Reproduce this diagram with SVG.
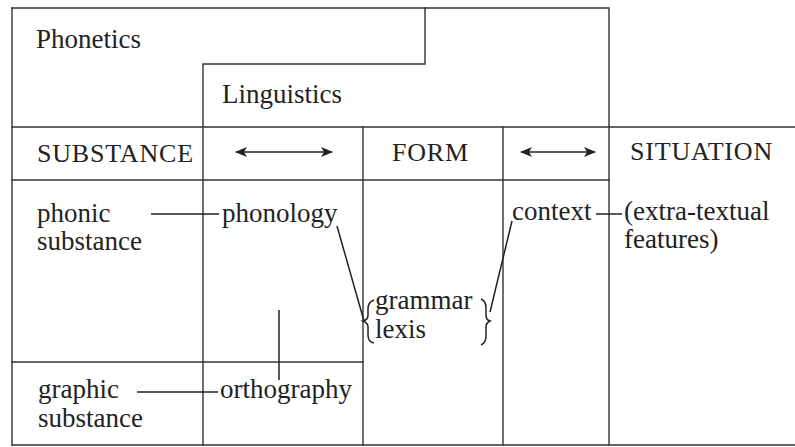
<svg xmlns="http://www.w3.org/2000/svg" width="795" height="447" viewBox="0 0 795 447">
<style>
.t{font-family:"Liberation Serif","Times New Roman",serif;font-size:27px;fill:#222}
.c{font-family:"Liberation Serif","Times New Roman",serif;font-size:26px;fill:#222;letter-spacing:0.8px}
.ln{stroke:#333;stroke-width:1.4;fill:none;stroke-linecap:square}
.cn{stroke:#222;stroke-width:1.5;fill:none}
</style>
<defs>
<marker id="ah" viewBox="0 0 12 10" refX="11" refY="5" markerWidth="12" markerHeight="10" markerUnits="userSpaceOnUse" orient="auto-start-reverse">
<path d="M0,0 L12,5 L0,10 L3,5 Z" fill="#222"/>
</marker>
</defs>
<rect width="795" height="447" fill="#fff"/>
<g id="frame" class="ln">
<path d="M12,8 H609 V445"/>
<path d="M12,8 V445"/>
<path d="M425,8 V64 H203 V445"/>
<path d="M12,127 H795"/>
<path d="M12,180 H609"/>
<path d="M363,127 V445"/>
<path d="M503,127 V445"/>
<path d="M12,362 H363"/>
<path d="M12,445 H795"/>
</g>
<g id="phonetics"><text class="t" x="36" y="48">Phonetics</text></g>
<g id="linguistics"><text class="t" x="222" y="103">Linguistics</text></g>
<g id="substance"><text class="c" x="37" y="162">SUBSTANCE</text></g>
<g id="form"><text class="c" x="392" y="161">FORM</text></g>
<g id="situation"><text class="c" x="630" y="160">SITUATION</text></g>
<g id="phonic-substance"><text class="t" x="37" y="222">phonic</text><text class="t" x="37" y="250">substance</text></g>
<g id="phonology"><text class="t" x="222" y="222">phonology</text></g>
<g id="grammar-lexis"><text class="t" x="375" y="309">grammar</text><text class="t" x="375" y="338">lexis</text>
<path class="cn" d="M374,300 Q368,302 368,309 L368,315 Q368,320 363,321 Q368,323 368,327 L368,335 Q368,342 374,343" stroke-width="1.3"/>
<path class="cn" d="M481,299 Q486,301 486,308 L486,315 Q486,320 490,321 Q486,323 486,327 L486,336 Q486,343 481,345" stroke-width="1.3"/>
</g>
<g id="context"><text class="t" x="512" y="220">context</text></g>
<g id="extra-textual"><text class="t" x="624" y="220">(extra-textual</text><text class="t" x="624" y="248">features)</text></g>
<g id="graphic-substance"><text class="t" x="38" y="398">graphic</text><text class="t" x="38" y="427">substance</text></g>
<g id="orthography"><text class="t" x="220" y="398">orthography</text></g>
<g id="connectors" class="cn">
<line x1="236" y1="152" x2="332" y2="152" marker-start="url(#ah)" marker-end="url(#ah)"/>
<line x1="521" y1="152" x2="595" y2="152" marker-start="url(#ah)" marker-end="url(#ah)"/>
<line x1="151" y1="214" x2="219" y2="214"/>
<line x1="337" y1="226" x2="364" y2="321"/>
<line x1="512" y1="221" x2="490" y2="312"/>
<line x1="596" y1="214" x2="622" y2="214"/>
<line x1="279" y1="310" x2="279" y2="380"/>
<line x1="137" y1="392" x2="218" y2="392"/>
</g>
</svg>
